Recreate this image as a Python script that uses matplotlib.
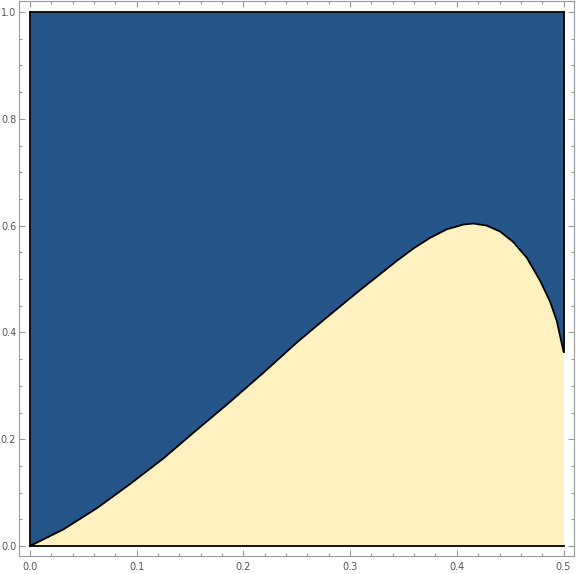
import matplotlib
matplotlib.use("Agg")
import matplotlib.pyplot as plt
import numpy as np
from matplotlib.ticker import MultipleLocator, FormatStrFormatter

# boundary curve (x, y)
curve_x = [0.0, 0.0312, 0.0625, 0.0937, 0.125, 0.156, 0.1875, 0.219, 0.25,
           0.275, 0.306, 0.328, 0.3437, 0.3592, 0.3749, 0.3905, 0.4061,
           0.4155, 0.428, 0.4405, 0.453, 0.4655, 0.478, 0.4873, 0.4936, 0.5]
curve_y = [0.0, 0.031, 0.0706, 0.116, 0.164, 0.217, 0.270, 0.325, 0.381,
           0.423, 0.474, 0.509, 0.534, 0.557, 0.577, 0.593, 0.602,
           0.604, 0.600, 0.589, 0.569, 0.540, 0.497, 0.458, 0.422, 0.364]

x_ticks = [0.0, 0.1, 0.2, 0.3, 0.4, 0.5]
y_ticks = [0.0, 0.2, 0.4, 0.6, 0.8, 1.0]

BLUE = "#26558a"
YELLOW = "#fff2c0"
FRAME = "#9a9a9a"

fig = plt.figure(figsize=(5.76, 5.74), dpi=100)
ax = fig.add_axes([19 / 576, 18 / 574, 555 / 576, 555 / 574])

cx = np.array(curve_x)
cy = np.array(curve_y)

ax.fill_between(cx, cy, 1.0, color=BLUE, lw=0)
ax.fill_between(cx, 0.0, cy, color=YELLOW, lw=0)

# region outlines
ax.plot(cx, cy, color="black", lw=1.3, solid_joinstyle="round")
ax.plot([0, 0.5], [0, 0], color="black", lw=1.3)
ax.plot([0, 0], [0, 1], color="black", lw=1.3)
ax.plot([0, 0.5], [1, 1], color="black", lw=1.3)
ax.plot([0.5, 0.5], [cy[-1], 1], color="black", lw=1.3)

ax.set_xlim(-0.0103, 0.5098)
ax.set_ylim(-0.0187, 1.0206)

ax.set_xticks(x_ticks)
ax.set_yticks(y_ticks)
ax.xaxis.set_major_formatter(FormatStrFormatter("%.1f"))
ax.yaxis.set_major_formatter(FormatStrFormatter("%.1f"))
ax.xaxis.set_minor_locator(MultipleLocator(0.02))
ax.yaxis.set_minor_locator(MultipleLocator(0.05))

ax.tick_params(which="both", direction="in", top=True, right=True,
               color=FRAME, width=0.8, labelcolor="#555555", labelsize=7)
ax.tick_params(which="major", length=4.5)
ax.tick_params(which="minor", length=2.5)
ax.tick_params(axis="x", pad=4)
ax.tick_params(axis="y", pad=2)

for sp in ax.spines.values():
    sp.set_color(FRAME)
    sp.set_linewidth(0.8)

fig.savefig("out.png", dpi=100)
